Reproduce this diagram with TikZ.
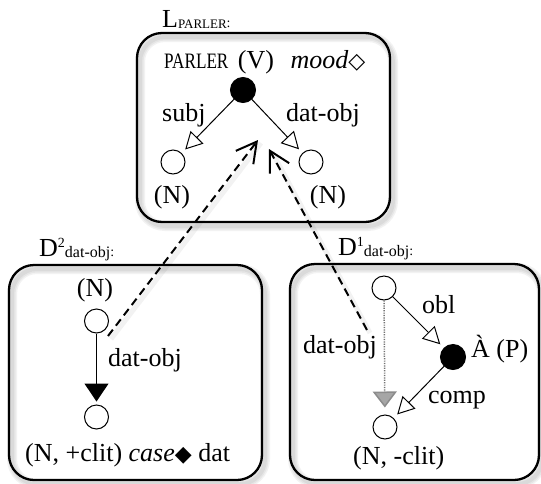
\documentclass[tikz,border=0pt]{standalone}
\usepackage{fontspec}
\usepackage{graphicx}
\setmainfont{Liberation Serif}
\newfontfamily\symfont{DejaVu Sans}
\usetikzlibrary{arrows.meta,calc}
\newcommand\subsz{\fontsize{16pt}{18pt}\selectfont}
\newcommand\symsz{\symfont\fontsize{22pt}{24pt}\selectfont}
\begin{document}
\begin{tikzpicture}[x=1pt,y=-1pt,
  txt/.style={inner sep=0pt, font=\fontsize{26pt}{30pt}\selectfont},
  frame/.style={draw, line width=2.3pt, rounded corners=25pt},
  shadowline/.style={draw=black, opacity=0.05, rounded corners=25pt},
  wnode/.style={circle, draw, fill=white, line width=1pt, minimum size=24pt, inner sep=0pt},
  bnode/.style={circle, draw, fill=black, line width=1pt, minimum size=25pt, inner sep=0pt},
  dep/.style={line width=1pt, shorten >=5pt, -{Triangle[open, length=17pt, width=18pt, line width=1pt]}},
  fdep/.style={line width=1pt, shorten >=3pt, -{Triangle[length=18pt, width=24pt]}},
  gdep/.style={draw=black!55, line width=1.5pt, dash pattern=on 1.2pt off 1.2pt, shorten >=7pt, -{Triangle[length=16pt, width=24pt, fill=black!35, color=black!45]}},
  corr/.style={line width=2pt, dash pattern=on 8pt off 5pt, -{Straight Barb[length=20pt, width=22pt, line width=2pt]}},
  corrshadow/.style={line width=5pt, draw=black, opacity=0.05},
]
\useasboundingbox (0,0) rectangle (541,483);

% shadows of frames
\foreach \w in {10,7,4}{
  \draw[shadowline, line width=\w pt] (140,37) rectangle (393,226);
  \draw[shadowline, line width=\w pt] (12,269) rectangle (265,484);
  \draw[shadowline, line width=\w pt] (293,268) rectangle (542,484);
}
% frames
\draw[frame] (137,33) rectangle (390,222);
\draw[frame] (9,265) rectangle (262,480);
\draw[frame] (290,264) rectangle (539,480);

% labels of frames
\node[txt, anchor=base west] (lp) at (162,27) {L\raisebox{-1pt}{\fontsize{13pt}{14pt}\selectfont PARLER}{\fontsize{14pt}{16pt}\selectfont :}};
\node[txt, anchor=base west] (d2) at (39,256) {D\raisebox{9pt}{\fontsize{14pt}{16pt}\selectfont 2}\raisebox{-1.5pt}{\subsz dat-obj}{\fontsize{14pt}{16pt}\selectfont :}};
\node[txt, anchor=base west] (d1) at (338,255) {D\raisebox{9pt}{\fontsize{14pt}{16pt}\selectfont 1}\raisebox{-1.5pt}{\subsz dat-obj}{\fontsize{14pt}{16pt}\selectfont :}};

% top frame
\node[txt, anchor=base west] (vl) at (164,68) {\scalebox{0.78}[1]{\fontsize{22pt}{24pt}\selectfont PARLER}\hspace{3pt} (V)\hspace{10pt} \textit{mood}{\symsz ◇}};
\node[bnode] (v) at (243,90) {};
\node[wnode] (s) at (173,162) {};
\node[wnode] (o) at (311,162) {};
\node[txt, anchor=base west] (ls) at (162,121) {subj};
\node[txt, anchor=base west] (lo) at (286,121) {dat-obj};
\node[txt, anchor=base] (ns) at (172,203) {(N)};
\node[txt, anchor=base] (no) at (328,203) {(N)};
\draw[dep] (v) -- (s);
\draw[dep] (v) -- (o);

% D2 frame
\node[txt, anchor=base] (n2t) at (95,296) {(N)};
\node[wnode] (a2) at (96.5,321) {};
\node[wnode] (b2) at (96.5,417) {};
\node[txt, anchor=base west] (l2) at (108,366) {dat-obj};
\node[txt, anchor=base west] (n2b) at (25,461) {(N, +clit) \textit{case}{\symsz ◆} dat};
\draw[fdep] (a2) -- (b2);

% D1 frame
\node[wnode] (a1) at (384,288) {};
\node[bnode] (p1) at (453,357) {};
\node[wnode] (b1) at (385,427) {};
\node[txt, anchor=base west] (lobl) at (422,313) {obl};
\node[txt, anchor=base west] (lap) at (471,357) {À (P)};
\node[txt, anchor=base west] (lcomp) at (428,403) {comp};
\node[txt, anchor=base west] (ld1) at (303,353) {dat-obj};
\node[txt, anchor=base west] (n1b) at (353,464) {(N, -clit)};
\draw[gdep] (a1) -- (b1);
\draw[dep] (a1) -- (p1);
\draw[dep] (p1) -- (b1);

% correspondences
\coordinate (s1) at (108,336);
\coordinate (t1) at (258,140);
\coordinate (s2) at (367,330);
\coordinate (t2) at (269,149);
\draw[corrshadow] ($(s1)+(3,3)$) -- ($(t1)+(3,3)$);
\draw[corrshadow] ($(s2)+(3,3)$) -- ($(t2)+(3,3)$);
\draw[corr] (s1) -- (t1);
\draw[corr] (s2) -- (t2);
\end{tikzpicture}
\end{document}
